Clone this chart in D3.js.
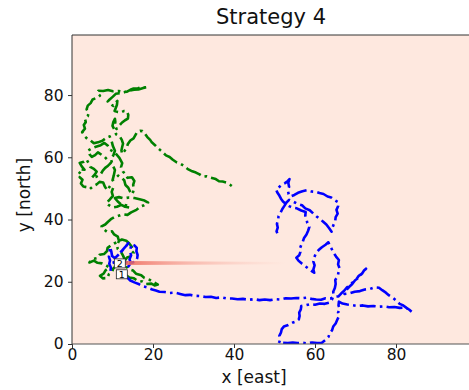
<!DOCTYPE html>
<html>
<head>
<meta charset="utf-8">
<script src="https://cdn.jsdelivr.net/npm/d3@7"></script>
<style>
  html, body { margin: 0; padding: 0; background: #ffffff; }
  svg { display: block; font-family: "DejaVu Sans", sans-serif; }
</style>
</head>
<body>
<svg id="chart" width="469" height="390"></svg>
<script>
// Agent trajectories in plane coordinates [x east, y north]
const greenPath = [
  [12.3,22.5],[13.2,22.2],[14.1,21.4],[15.3,21.1],[16.2,20.3],[17.4,20.1],[18.3,19.3],[19.6,19.4],[20.4,18.8],[21.2,19.1],
  [20.1,19.9],[19.2,20.6],[17.9,21.2],[17.1,22.1],[15.8,22.6],[15.1,23.6],[13.9,24.1],[13.2,25.2],[12.1,25.4],[11.4,26.3],
  [10.9,25.1],[10.2,24.3],[9.9,23.1],[9.1,22.4],[8.7,21.2],[7.6,21.1],[6.9,21.9],[7.8,22.6],[8.3,23.7],[9.2,24.6],
  [8.4,25.3],[7.4,25.9],[6.3,26.1],[5.4,26.8],[4.3,26.2],[5.1,27.3],[6.2,27.6],[6.8,28.7],[7.9,28.9],[8.6,29.8],
  [8.8,30.9],[9.6,31.7],[10.4,32.3],[11.3,32.8],[12.3,33.6],[13.4,33.2],[14.1,32.4],[14.8,31.2],[14.6,30.1],[15.2,29.3],
  [14.5,28.2],[13.6,27.8],[13.1,26.9],[12.6,28.4],[12.1,29.6],[11.3,30.5],[11.1,31.8],[11.6,33.1],[11.3,34.5],[10.4,35.2],
  [9.9,36.2],[8.7,36.0],[7.9,36.8],[7.3,37.8],[8.2,38.4],[8.9,39.3],[9.6,40.1],[10.4,40.7],[11.5,41.2],[12.6,41.7],
  [13.7,41.5],[14.6,42.3],[15.9,43.1],[16.8,44.1],[17.8,44.6],[18.8,45.4],[17.9,46.1],[16.7,46.5],[15.4,46.9],[14.1,47.1],
  [12.8,46.8],[11.6,47.2],[10.6,46.9],[11.3,45.8],[12.1,44.9],[13.3,44.6],[14.3,43.8],[13.1,44.1],[12.2,44.7],[11.1,44.1],
  [10.1,43.9],[9.1,44.6],[8.5,45.3],[9.3,46.4],[10.1,47.6],[9.8,48.9],[10.2,50.3],[9.4,50.8],[8.7,49.4],[8.1,50.6],
  [7.7,51.9],[6.8,52.1],[6.1,51.3],[5.2,50.7],[4.4,49.8],[3.6,50.4],[2.8,50.6],[2.2,51.6],[2.6,52.8],[1.9,53.6],
  [2.5,54.4],[1.6,55.3],[2.3,56.1],[3.1,56.0],[2.4,57.1],[1.9,58.2],[2.9,58.6],[3.6,59.3],[4.1,58.1],[4.5,56.9],
  [5.4,56.3],[6.1,55.4],[5.6,54.4],[4.9,53.4],[5.9,53.7],[7.1,54.6],[7.6,55.7],[8.2,56.6],[8.9,57.3],[9.6,58.2],
  [8.8,59.1],[8.1,60.1],[7.3,60.8],[6.4,61.6],[5.7,60.7],[4.9,60.1],[4.3,61.0],[3.9,62.1],[4.8,62.8],[5.9,63.4],
  [7.1,63.9],[8.0,64.6],[8.8,63.8],[9.4,62.4],[10.3,61.8],[11.0,60.9],[11.7,59.8],[12.4,58.1],[12.1,56.8],[12.6,55.4],
  [13.3,54.3],[13.7,53.4],[14.8,53.6],[15.4,52.4],[15.1,51.1],[15.3,49.8],[14.9,48.1],[14.3,49.1],[13.9,50.2],[13.2,51.1],
  [12.9,52.6],[12.2,53.4],[11.4,54.1],[10.7,53.3],[10.0,52.6],[10.3,54.1],[10.6,55.9],[10.1,57.3],[9.6,59.4],[10.2,60.6],
  [10.6,62.1],[10.1,63.6],[9.8,65.1],[9.3,66.7],[8.3,66.1],[7.5,65.3],[6.4,64.8],[5.4,64.5],[4.6,65.4],[3.8,65.9],
  [3.1,66.8],[2.5,68.1],[3.2,69.2],[2.9,70.4],[3.4,71.3],[3.2,72.4],[3.9,73.2],[4.1,74.3],[3.6,75.4],[3.9,76.6],
  [4.6,77.4],[5.1,78.6],[6.1,79.1],[6.9,79.8],[6.3,80.6],[6.5,81.4],[7.7,81.3],[8.9,81.6],[10.1,81.2],[11.5,81.3],
  [12.6,81.0],[13.6,81.1],[14.4,81.7],[15.2,82.1],[16.3,82.2],[17.1,82.6],[18.0,82.4],[18.8,82.6],[17.6,82.3],[16.4,81.8],
  [15.3,81.7],[14.1,81.4],[12.9,80.9],[11.9,80.6],[10.8,80.4],[10.1,79.5],[9.3,78.6],[8.8,77.9],[9.5,77.1],[10.2,76.5],
  [10.6,77.3],[11.2,78.1],[11.1,76.9],[10.8,75.8],[10.5,74.9],[11.2,74.6],[12.1,74.4],[12.9,74.9],[13.6,74.7],[13.9,73.6],
  [13.8,72.4],[13.1,71.9],[12.3,71.1],[11.7,70.2],[11.0,69.1],[10.6,70.4],[10.7,71.4],[10.6,72.4],[10.2,71.3],[10.0,70.1],
  [10.5,68.8],[10.9,67.4],[11.8,66.7],[12.3,65.6],[12.6,64.4],[12.4,63.4],[12.2,62.2],[12.4,61.1],[13.0,62.1],[13.5,63.1],
  [13.8,64.3],[14.4,65.4],[15.2,66.1],[16.0,67.9],[16.8,68.5],[17.4,68.4],[18.1,67.4],[18.6,66.5],[19.3,65.6],[19.7,64.8],
  [20.5,63.9],[21.1,63.1],[21.8,62.3],[22.4,61.6],[23.2,60.6],[24.1,60.1],[24.9,59.2],[25.8,58.4],[26.8,57.9],[27.8,57.1],
  [28.6,56.2],[29.7,55.5],[30.6,55.1],[31.5,54.5],[32.3,53.8],[33.2,53.9],[34.3,53.4],[35.5,53.0],[36.3,52.3],[37.2,52.2],
  [38.1,51.9],[39.0,51.2],[39.6,50.6]
];

const bluePath = [
  [9.5,23.5],[9.6,24.6],[9.2,25.8],[9.4,26.9],[9.1,28.1],[9.4,29.3],[9.3,30.3],[9.4,31.2],[9.7,29.8],[9.9,28.3],
  [10.6,27.6],[11.4,28.6],[12.1,29.5],[12.8,30.6],[13.4,31.5],[13.9,32.4],[13.1,31.1],[12.4,30.1],[11.7,29.1],[11.0,28.1],
  [10.4,27.1],[10.3,26.1],[11.2,26.3],[12.1,26.1],[13.0,26.4],[14.0,26.0],[15.0,26.2],[15.8,26.6],[16.1,27.6],[16.2,28.6],
  [15.9,29.8],[16.0,30.9],[15.4,31.7],[14.7,32.1],[14.5,31.0],[14.3,29.8],[14.6,28.5],[14.2,27.2],[14.5,26.1],[14.0,25.0],
  [13.4,24.1],[13.0,23.0],[13.3,21.8],[14.4,20.4],[15.4,19.8],[16.6,19.2],[17.4,18.6],[18.6,18.2],[19.8,17.5],[20.7,17.2],
  [21.6,16.8],[22.9,16.7],[24.1,16.4],[25.4,16.5],[26.7,16.1],[28.0,15.7],[29.1,15.8],[30.2,15.5],[31.6,15.4],[33.0,15.1],
  [34.3,15.2],[35.6,14.8],[36.9,15.0],[38.3,14.6],[39.5,14.6],[40.9,14.4],[42.2,14.5],[43.6,14.2],[45.0,14.4],[46.3,14.1],
  [47.6,14.3],[48.9,14.1],[50.2,14.4],[51.5,14.3],[52.8,14.7],[54.1,14.6],[55.4,14.8],[56.7,14.7],[57.9,14.9],[59.1,14.5],
  [60.3,14.3],[61.5,14.2],[62.6,14.7],[63.8,14.6],[64.9,15.2],[65.8,15.3],[66.5,16.3],[67.2,17.1],[67.9,18.2],[68.7,19.0],
  [69.5,20.1],[70.2,20.8],[70.8,21.9],[71.6,22.6],[72.1,23.6],[72.6,24.2],[71.5,22.5],[70.8,21.3],[69.9,20.5],[69.2,19.3],
  [68.4,18.3],[67.6,17.2],[67.3,16.1],[68.6,16.3],[69.8,16.8],[71.1,17.0],[72.3,17.5],[73.6,17.7],[74.7,18.2],[75.8,18.1],
  [76.6,17.3],[77.5,16.5],[78.3,15.6],[79.3,14.8],[80.1,13.9],[80.9,12.9],[81.8,12.4],[82.6,11.6],[83.3,11.0],[83.9,10.3],
  [83.1,11.2],[82.2,11.7],[80.9,11.6],[79.6,11.9],[78.3,11.8],[77.0,12.1],[75.7,12.0],[74.4,12.2],[73.1,12.1],[71.8,12.4],
  [70.5,12.2],[69.2,12.5],[68.0,12.7],[66.8,13.0],[65.9,13.6],[65.8,12.4],[66.1,11.3],[65.7,10.1],[65.9,8.9],[65.5,7.8],
  [65.1,6.6],[64.5,5.6],[64.2,4.4],[63.6,3.3],[63.3,2.2],[62.5,1.2],[61.7,0.4],[60.5,0.3],[59.3,0.5],[58.1,0.2],
  [56.9,0.4],[55.7,0.3],[54.5,0.5],[53.3,0.3],[52.1,0.4],[51.1,0.3],[51.4,1.4],[51.2,2.6],[51.6,3.7],[51.8,4.8],
  [52.3,5.6],[53.4,6.1],[54.4,6.8],[55.3,7.2],[56.0,7.9],[56.2,9.0],[56.1,10.1],[56.5,11.1],[56.6,12.2],[57.6,12.4],
  [58.8,12.8],[60.0,12.6],[61.2,13.0],[62.4,12.9],[63.6,13.3],[64.2,14.3],[64.6,15.6],[64.5,16.8],[64.9,18.0],[65.1,19.3],
  [65.0,20.6],[65.6,21.7],[65.8,23.0],[66.1,24.2],[65.7,25.6],[65.9,27.0],[65.2,28.1],[64.6,29.3],[64.1,30.6],[63.6,31.8],
  [63.3,32.7],[62.6,31.9],[61.7,31.1],[60.9,30.2],[60.2,29.0],[59.8,27.8],[59.6,26.5],[59.9,25.3],[59.6,24.0],[59.8,22.9],
  [59.0,23.6],[58.2,24.4],[57.4,25.2],[56.6,26.0],[55.9,26.8],[55.4,27.7],[56.1,28.5],[56.4,29.6],[56.3,30.8],[56.6,31.8],
  [57.0,32.9],[57.3,34.1],[57.9,35.2],[58.3,36.4],[58.6,37.6],[58.1,38.9],[57.9,40.1],[57.6,41.3],[57.7,42.4],[56.6,42.9],
  [55.5,43.6],[54.5,43.8],[53.6,44.3],[52.8,45.0],[52.1,45.8],[51.6,46.7],[51.2,47.7],[50.7,48.7],[50.4,49.6],[51.1,50.4],
  [51.8,51.2],[52.6,51.7],[53.3,52.4],[53.7,53.0],[53.4,51.8],[53.6,50.5],[53.3,49.3],[53.5,48.1],[53.9,47.4],[54.9,47.9],
  [55.8,48.6],[56.9,49.1],[58.0,49.4],[59.1,49.0],[60.2,48.9],[61.1,48.5],[62.1,48.2],[63.1,47.4],[64.0,47.1],[64.9,46.2],
  [65.8,45.5],[65.7,44.3],[65.3,43.1],[65.6,41.9],[65.1,40.8],[65.0,39.6],[64.6,38.4],[64.3,37.3],[64.1,36.1],[63.5,37.2],
  [62.8,38.4],[62.1,39.2],[61.3,40.1],[60.4,41.0],[59.6,41.9],[58.7,43.0],[57.6,43.6],[56.8,44.6],[55.7,45.0],[54.7,45.7],
  [53.6,46.3],[52.9,45.4],[52.4,44.3],[51.9,43.3],[51.5,42.2],[51.0,41.1],[50.9,39.9],[50.6,38.6],[50.8,37.4],[50.5,36.2],
  [50.7,35.6]
];

// Numbered agent tags
const tagLabels = ["1", "2"];
const tagPositions = [[12.3, 22.4], [11.8, 25.9]];

// Sensor beam: origin, reach and width
const beamOrigin = [12.8, 26];
const beamReach = 40;
const beamHalfWidth = 0.65;

// Axes
const xTicks = [0, 20, 40, 60, 80];
const yTicks = [0, 20, 40, 60, 80];
const xDomain = [0, 100];
const yDomain = [0, 99.3];
const titleText = "Strategy 4";
const xLabelText = "x [east]";
const yLabelText = "y [north]";

const svg = d3.select("#chart");
const plot = { left: 72, right: 477, top: 35, bottom: 344 };

const x = d3.scaleLinear().domain(xDomain).range([plot.left, plot.right]);
const y = d3.scaleLinear().domain(yDomain).range([plot.bottom, plot.top]);

const defs = svg.append("defs");
defs.append("clipPath").attr("id", "plotClip")
  .append("rect")
  .attr("x", plot.left).attr("y", plot.top)
  .attr("width", plot.right - plot.left).attr("height", plot.bottom - plot.top);

const grad = defs.append("linearGradient").attr("id", "beamGrad")
  .attr("gradientUnits", "userSpaceOnUse")
  .attr("x1", x(beamOrigin[0])).attr("x2", x(beamOrigin[0] + beamReach))
  .attr("y1", 0).attr("y2", 0);
grad.append("stop").attr("offset", 0).attr("stop-color", "#ee6a5c").attr("stop-opacity", 0.9);
grad.append("stop").attr("offset", 0.4).attr("stop-color", "#f38a7d").attr("stop-opacity", 0.5);
grad.append("stop").attr("offset", 1).attr("stop-color", "#fbb9ab").attr("stop-opacity", 0);

// Plot background
svg.append("rect")
  .attr("x", plot.left).attr("y", plot.top)
  .attr("width", plot.right - plot.left).attr("height", plot.bottom - plot.top)
  .attr("fill", "#fee8df");

const g = svg.append("g").attr("clip-path", "url(#plotClip)");

const line = d3.line().x(d => x(d[0])).y(d => y(d[1]));
const dash = "16,4.2,2.6,4.2";

g.append("path").datum(greenPath)
  .attr("d", line).attr("fill", "none")
  .attr("stroke", "#008000").attr("stroke-width", 2.6)
  .attr("stroke-dasharray", dash).attr("stroke-linejoin", "round");

g.append("path").datum(bluePath)
  .attr("d", line).attr("fill", "none")
  .attr("stroke", "#0000ff").attr("stroke-width", 2.6)
  .attr("stroke-dasharray", dash).attr("stroke-linejoin", "round");

// Beam
const beamPoly = [
  [beamOrigin[0], beamOrigin[1] + beamHalfWidth],
  [beamOrigin[0] + beamReach, beamOrigin[1] + beamHalfWidth * 0.6],
  [beamOrigin[0] + beamReach, beamOrigin[1] - beamHalfWidth * 0.6],
  [beamOrigin[0], beamOrigin[1] - beamHalfWidth]
];
g.append("path")
  .attr("d", d3.line().x(d => x(d[0])).y(d => y(d[1]))(beamPoly) + "Z")
  .attr("fill", "url(#beamGrad)");

// Tags
const tags = svg.append("g");
tagLabels.forEach((lab, i) => {
  const cx = x(tagPositions[i][0]), cy = y(tagPositions[i][1]);
  tags.append("rect")
    .attr("x", cx - 5.5).attr("y", cy - 4.5)
    .attr("width", 11).attr("height", 9)
    .attr("fill", "#ffffff").attr("stroke", "#222").attr("stroke-width", 0.8);
  tags.append("text")
    .attr("x", cx).attr("y", cy + 3.3)
    .attr("text-anchor", "middle")
    .attr("font-size", 9.5).attr("fill", "#000")
    .text(lab);
});

// Axes
const xAxis = svg.append("g")
  .attr("transform", `translate(0,${plot.bottom})`)
  .call(d3.axisBottom(x).tickValues(xTicks).tickSize(4).tickPadding(0.5).tickFormat(d3.format("d")));
const yAxis = svg.append("g")
  .attr("transform", `translate(${plot.left},0)`)
  .call(d3.axisLeft(y).tickValues(yTicks).tickSize(4).tickPadding(4.5).tickFormat(d3.format("d")));

[xAxis, yAxis].forEach(ax => {
  ax.select(".domain").remove();
  ax.selectAll("line").attr("stroke", "#333");
  ax.selectAll("text").attr("font-size", 15.5).attr("fill", "#111")
    .attr("font-family", "DejaVu Sans, sans-serif");
});

// Spines
svg.append("line").attr("x1", plot.left).attr("x2", plot.left)
  .attr("y1", plot.top).attr("y2", plot.bottom).attr("stroke", "#333").attr("stroke-width", 1);
svg.append("line").attr("x1", plot.left).attr("x2", plot.right)
  .attr("y1", plot.bottom).attr("y2", plot.bottom).attr("stroke", "#555").attr("stroke-width", 1.2);
svg.append("line").attr("x1", plot.left).attr("x2", plot.right)
  .attr("y1", plot.top).attr("y2", plot.top).attr("stroke", "#333").attr("stroke-width", 1);

// Titles
svg.append("text").attr("x", 271).attr("y", 24)
  .attr("text-anchor", "middle").attr("font-size", 21).attr("fill", "#111")
  .text(titleText);
svg.append("text").attr("x", 254).attr("y", 383)
  .attr("text-anchor", "middle").attr("font-size", 17).attr("fill", "#111")
  .text(xLabelText);
svg.append("text")
  .attr("transform", `translate(30,195) rotate(-90)`)
  .attr("text-anchor", "middle").attr("font-size", 17).attr("fill", "#111")
  .text(yLabelText);
</script>
</body>
</html>
